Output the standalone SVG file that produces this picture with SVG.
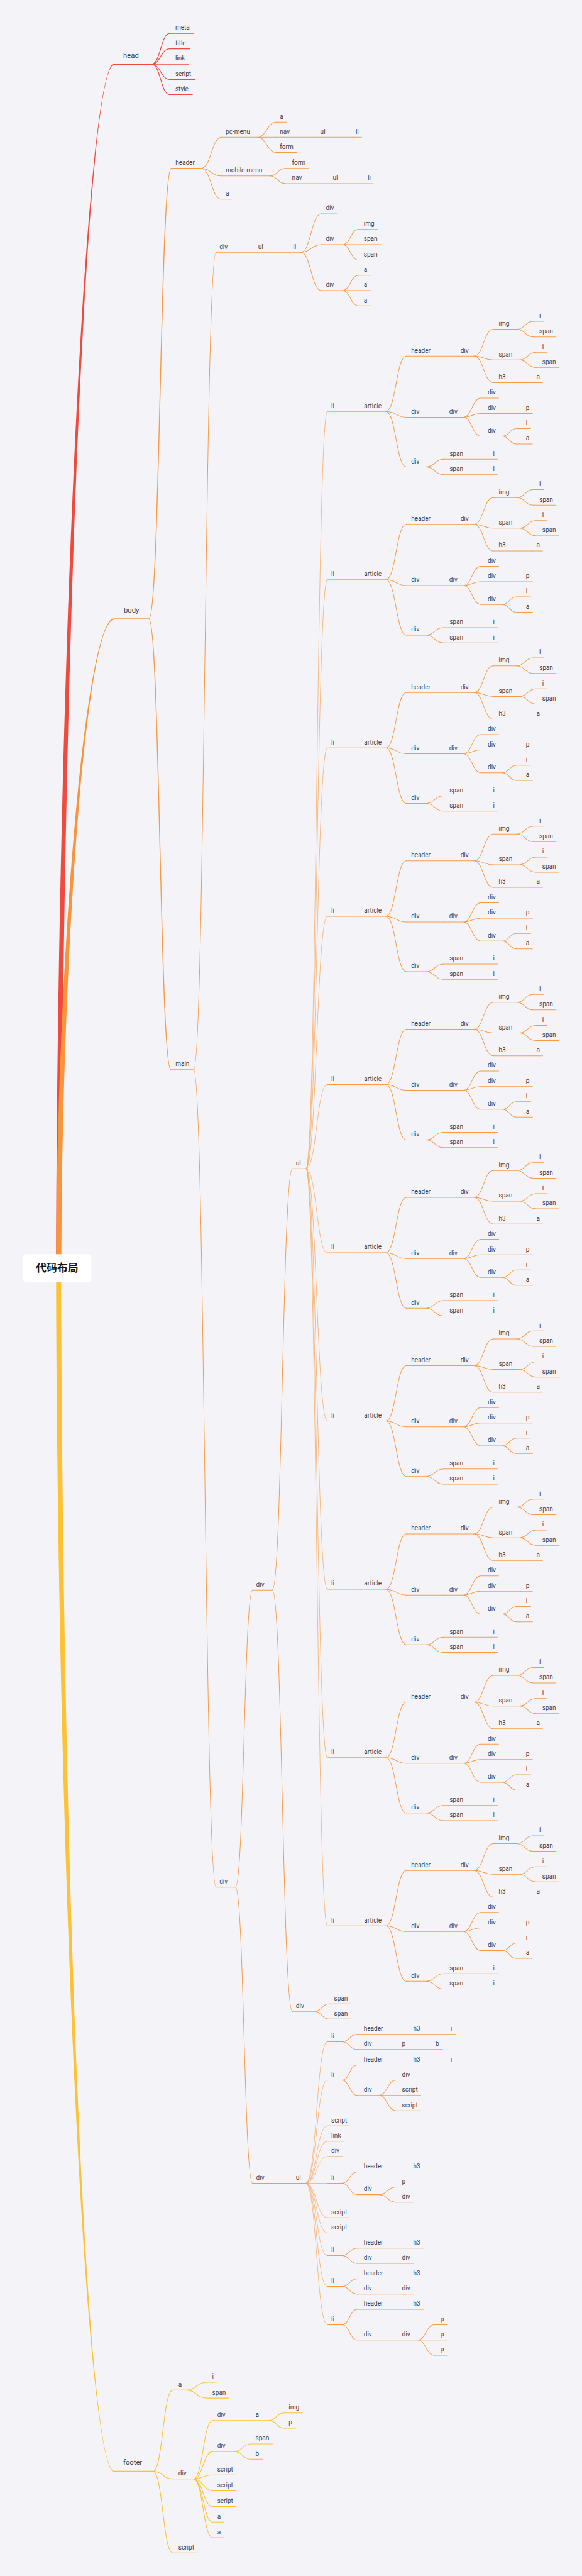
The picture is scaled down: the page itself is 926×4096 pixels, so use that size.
<svg xmlns="http://www.w3.org/2000/svg" width="926" height="4096" viewBox="0 0 926 4096">
<style>
text{font-family:Roboto,"Liberation Sans",sans-serif;font-size:12.5px;fill:#3b4354;stroke:none}
.L1{font-size:14px}
.root{font-family:"Noto Sans CJK SC","Noto Sans CJK JP",sans-serif;font-size:21px;font-weight:700;fill:#151515}
path{fill:none;stroke-linecap:round}
.R path{stroke:#f04a3f;stroke-width:1.5}
.O path{stroke:#f79a45;stroke-width:1.25}
.Y path{stroke:#fcc233;stroke-width:1.4}
path.k1{stroke-width:2.2}
path.k2{stroke-width:1.8}
path.th{stroke-width:1;stroke:#f9aa60}
.bR{fill:#f04a3f;stroke:none}
.bO{fill:#f8953b;stroke:none}
.bY{fill:#fcc233;stroke:none}
</style>
<rect width="926" height="4096" fill="#f4f4f8"/>
<g transform="scale(0.80382,0.80345)">
<g id="connectors">
<path class="bR" d="M111 2490C114 1308 171 125.8 226 125.8L226 128.2C171 128.2 124 1308 121 2490Z"/>
<path class="bO" d="M111 2490C114 1857 171 1223.8 226 1223.8L226 1226.2C171 1226.2 124 1857 121 2490Z"/>
<path class="bY" d="M111 2530C114 3710 171 4892.2 226 4892.2L226 4889.8C171 4889.8 124 3710 121 2530Z"/>
<g class="R"><path d="M300 127C318 127 318 66 336 66M300 127C318 127 318 96.7 336 96.7M300 127H336M300 127C318 127 318 157.3 336 157.3M300 127C318 127 318 187.3 336 187.3"/></g>
<g class="O">
<path class="k2" d="M294.7 1225C316.9 1225 316.9 333.3 339 333.3M294.7 1225C316.5 1225 316.5 2117 338.3 2117"/>
<path d="M397.8 333.3C418.2 333.3 418.2 271.7 438.6 271.7M397.8 333.3C418.2 333.3 418.2 348.3 438.6 348.3M397.8 333.3C418.2 333.3 418.2 394.3 438.6 394.3M509.2 271.7C528.1 271.7 528.1 241.7 547 241.7M509.2 271.7H547M509.2 271.7C528.1 271.7 528.1 301.7 547 301.7M533.7 348.3C549.4 348.3 549.4 333.3 565 333.3M533.7 348.3C549.4 348.3 549.4 363.3 565 363.3"/>
<path d="M383.3 2117C405.5 2117 405.5 499.3 427.7 499.3M383.3 2117C405.5 2117 405.5 3734.7 427.7 3734.7"/>
<path d="M595.5 499.3C615.8 499.3 615.8 423.3 636 423.3M595.5 499.3C615.8 499.3 615.8 484.3 636 484.3M595.5 499.3C615.8 499.3 615.8 575 636 575M677.4 484.3C693.7 484.3 693.7 454 710 454M677.4 484.3H710M677.4 484.3C693.7 484.3 693.7 514.7 710 514.7M677.4 575C693.7 575 693.7 544.7 710 544.7M677.4 575H710M677.4 575C693.7 575 693.7 605.3 710 605.3"/>
<path d="M466 3734.7C483 3734.7 483 3146.8 500 3146.8M466 3734.7C483 3734.7 483 4320.7 500 4320.7M539 3146.8C558.9 3146.8 558.9 2312.8 578.8 2312.8M539 3146.8C558.9 3146.8 558.9 3980.7 578.8 3980.7M623 3980.7C637 3980.7 637 3965.7 651 3965.7M623 3980.7C637 3980.7 637 3995.7 651 3995.7"/>
<path class="th" d="M606 2312.8C626.8 2312.8 626.8 814.3 647.5 814.3M606 2312.8C626.8 2312.8 626.8 1147.3 647.5 1147.3M606 2312.8C626.8 2312.8 626.8 1480.3 647.5 1480.3M606 2312.8C626.8 2312.8 626.8 1813.3 647.5 1813.3M606 2312.8C626.8 2312.8 626.8 2146.3 647.5 2146.3M606 2312.8C626.8 2312.8 626.8 2479.3 647.5 2479.3M606 2312.8C626.8 2312.8 626.8 2812.3 647.5 2812.3M606 2312.8C626.8 2312.8 626.8 3145.3 647.5 3145.3M606 2312.8C626.8 2312.8 626.8 3478.3 647.5 3478.3M606 2312.8C626.8 2312.8 626.8 3811.3 647.5 3811.3"/>
<path class="th" d="M605.7 4320.7C626.6 4320.7 626.6 4040.7 647.5 4040.7M605.7 4320.7C626.6 4320.7 626.6 4116.7 647.5 4116.7M605.7 4320.7C626.6 4320.7 626.6 4207.3 647.5 4207.3M605.7 4320.7C626.6 4320.7 626.6 4237.7 647.5 4237.7M605.7 4320.7C626.6 4320.7 626.6 4268 647.5 4268M605.7 4320.7H647.5M605.7 4320.7C626.6 4320.7 626.6 4389 647.5 4389M605.7 4320.7C626.6 4320.7 626.6 4419 647.5 4419M605.7 4320.7C626.6 4320.7 626.6 4464 647.5 4464M605.7 4320.7C626.6 4320.7 626.6 4525 647.5 4525M605.7 4320.7C626.6 4320.7 626.6 4600.7 647.5 4600.7"/>
<path d="M676.7 4040.7C692 4040.7 692 4026 707.4 4026M676.7 4040.7C692 4040.7 692 4056 707.4 4056M676.7 4116.7C692 4116.7 692 4086.7 707.4 4086.7M676.7 4116.7C692 4116.7 692 4146.7 707.4 4146.7M749.6 4146.7C766.8 4146.7 766.8 4116.7 784 4116.7M749.6 4146.7H784M749.6 4146.7C766.8 4146.7 766.8 4177.3 784 4177.3M676.7 4320.7C692 4320.7 692 4298.3 707.4 4298.3M676.7 4320.7C692 4320.7 692 4343.3 707.4 4343.3M749.6 4343.3C766.8 4343.3 766.8 4328.3 784 4328.3M749.6 4343.3C766.8 4343.3 766.8 4358.3 784 4358.3M676.7 4464C692 4464 692 4449.3 707.4 4449.3M676.7 4464C692 4464 692 4479.3 707.4 4479.3M676.7 4525C692 4525 692 4510 707.4 4510M676.7 4525C692 4525 692 4540 707.4 4540M676.7 4600.7C692 4600.7 692 4570.3 707.4 4570.3M676.7 4600.7C692 4600.7 692 4631 707.4 4631M826.4 4631C843.2 4631 843.2 4600.7 860 4600.7M826.4 4631H860M826.4 4631C843.2 4631 843.2 4661 860 4661"/>
<g id="art-conn">
<path transform="translate(0 814.3)" d="M763.7 0C784 0 784 -109.6 804.2 -109.6M763.7 0C784 0 784 11.4 804.2 11.4M763.7 0C784 0 784 109.7 804.2 109.7M938 -109.6C957.3 -109.6 957.3 -162.6 976.6 -162.6M938 -109.6C957.3 -109.6 957.3 -102 976.6 -102M938 -109.6C957.3 -109.6 957.3 -57 976.6 -57M1022.4 -162.6C1039.1 -162.6 1039.1 -178.3 1055.8 -178.3M1022.4 -162.6C1039.1 -162.6 1039.1 -147.6 1055.8 -147.6M1027.7 -102C1044.4 -102 1044.4 -117 1061 -117M1027.7 -102C1044.4 -102 1044.4 -87 1061 -87M916.8 11.4C934.4 11.4 934.4 -26.6 952 -26.6M916.8 11.4C934.4 11.4 934.4 4 952 4M916.8 11.4C934.4 11.4 934.4 49 952 49M994.2 49C1008.3 49 1008.3 34 1022.4 34M994.2 49C1008.3 49 1008.3 64.4 1022.4 64.4M842.9 109.7C860.5 109.7 860.5 94.7 878 94.7M842.9 109.7C860.5 109.7 860.5 125 878 125"/>
<path transform="translate(0 1147.3)" d="M763.7 0C784 0 784 -109.6 804.2 -109.6M763.7 0C784 0 784 11.4 804.2 11.4M763.7 0C784 0 784 109.7 804.2 109.7M938 -109.6C957.3 -109.6 957.3 -162.6 976.6 -162.6M938 -109.6C957.3 -109.6 957.3 -102 976.6 -102M938 -109.6C957.3 -109.6 957.3 -57 976.6 -57M1022.4 -162.6C1039.1 -162.6 1039.1 -178.3 1055.8 -178.3M1022.4 -162.6C1039.1 -162.6 1039.1 -147.6 1055.8 -147.6M1027.7 -102C1044.4 -102 1044.4 -117 1061 -117M1027.7 -102C1044.4 -102 1044.4 -87 1061 -87M916.8 11.4C934.4 11.4 934.4 -26.6 952 -26.6M916.8 11.4C934.4 11.4 934.4 4 952 4M916.8 11.4C934.4 11.4 934.4 49 952 49M994.2 49C1008.3 49 1008.3 34 1022.4 34M994.2 49C1008.3 49 1008.3 64.4 1022.4 64.4M842.9 109.7C860.5 109.7 860.5 94.7 878 94.7M842.9 109.7C860.5 109.7 860.5 125 878 125"/>
<path transform="translate(0 1480.3)" d="M763.7 0C784 0 784 -109.6 804.2 -109.6M763.7 0C784 0 784 11.4 804.2 11.4M763.7 0C784 0 784 109.7 804.2 109.7M938 -109.6C957.3 -109.6 957.3 -162.6 976.6 -162.6M938 -109.6C957.3 -109.6 957.3 -102 976.6 -102M938 -109.6C957.3 -109.6 957.3 -57 976.6 -57M1022.4 -162.6C1039.1 -162.6 1039.1 -178.3 1055.8 -178.3M1022.4 -162.6C1039.1 -162.6 1039.1 -147.6 1055.8 -147.6M1027.7 -102C1044.4 -102 1044.4 -117 1061 -117M1027.7 -102C1044.4 -102 1044.4 -87 1061 -87M916.8 11.4C934.4 11.4 934.4 -26.6 952 -26.6M916.8 11.4C934.4 11.4 934.4 4 952 4M916.8 11.4C934.4 11.4 934.4 49 952 49M994.2 49C1008.3 49 1008.3 34 1022.4 34M994.2 49C1008.3 49 1008.3 64.4 1022.4 64.4M842.9 109.7C860.5 109.7 860.5 94.7 878 94.7M842.9 109.7C860.5 109.7 860.5 125 878 125"/>
<path transform="translate(0 1813.3)" d="M763.7 0C784 0 784 -109.6 804.2 -109.6M763.7 0C784 0 784 11.4 804.2 11.4M763.7 0C784 0 784 109.7 804.2 109.7M938 -109.6C957.3 -109.6 957.3 -162.6 976.6 -162.6M938 -109.6C957.3 -109.6 957.3 -102 976.6 -102M938 -109.6C957.3 -109.6 957.3 -57 976.6 -57M1022.4 -162.6C1039.1 -162.6 1039.1 -178.3 1055.8 -178.3M1022.4 -162.6C1039.1 -162.6 1039.1 -147.6 1055.8 -147.6M1027.7 -102C1044.4 -102 1044.4 -117 1061 -117M1027.7 -102C1044.4 -102 1044.4 -87 1061 -87M916.8 11.4C934.4 11.4 934.4 -26.6 952 -26.6M916.8 11.4C934.4 11.4 934.4 4 952 4M916.8 11.4C934.4 11.4 934.4 49 952 49M994.2 49C1008.3 49 1008.3 34 1022.4 34M994.2 49C1008.3 49 1008.3 64.4 1022.4 64.4M842.9 109.7C860.5 109.7 860.5 94.7 878 94.7M842.9 109.7C860.5 109.7 860.5 125 878 125"/>
<path transform="translate(0 2146.3)" d="M763.7 0C784 0 784 -109.6 804.2 -109.6M763.7 0C784 0 784 11.4 804.2 11.4M763.7 0C784 0 784 109.7 804.2 109.7M938 -109.6C957.3 -109.6 957.3 -162.6 976.6 -162.6M938 -109.6C957.3 -109.6 957.3 -102 976.6 -102M938 -109.6C957.3 -109.6 957.3 -57 976.6 -57M1022.4 -162.6C1039.1 -162.6 1039.1 -178.3 1055.8 -178.3M1022.4 -162.6C1039.1 -162.6 1039.1 -147.6 1055.8 -147.6M1027.7 -102C1044.4 -102 1044.4 -117 1061 -117M1027.7 -102C1044.4 -102 1044.4 -87 1061 -87M916.8 11.4C934.4 11.4 934.4 -26.6 952 -26.6M916.8 11.4C934.4 11.4 934.4 4 952 4M916.8 11.4C934.4 11.4 934.4 49 952 49M994.2 49C1008.3 49 1008.3 34 1022.4 34M994.2 49C1008.3 49 1008.3 64.4 1022.4 64.4M842.9 109.7C860.5 109.7 860.5 94.7 878 94.7M842.9 109.7C860.5 109.7 860.5 125 878 125"/>
<path transform="translate(0 2479.3)" d="M763.7 0C784 0 784 -109.6 804.2 -109.6M763.7 0C784 0 784 11.4 804.2 11.4M763.7 0C784 0 784 109.7 804.2 109.7M938 -109.6C957.3 -109.6 957.3 -162.6 976.6 -162.6M938 -109.6C957.3 -109.6 957.3 -102 976.6 -102M938 -109.6C957.3 -109.6 957.3 -57 976.6 -57M1022.4 -162.6C1039.1 -162.6 1039.1 -178.3 1055.8 -178.3M1022.4 -162.6C1039.1 -162.6 1039.1 -147.6 1055.8 -147.6M1027.7 -102C1044.4 -102 1044.4 -117 1061 -117M1027.7 -102C1044.4 -102 1044.4 -87 1061 -87M916.8 11.4C934.4 11.4 934.4 -26.6 952 -26.6M916.8 11.4C934.4 11.4 934.4 4 952 4M916.8 11.4C934.4 11.4 934.4 49 952 49M994.2 49C1008.3 49 1008.3 34 1022.4 34M994.2 49C1008.3 49 1008.3 64.4 1022.4 64.4M842.9 109.7C860.5 109.7 860.5 94.7 878 94.7M842.9 109.7C860.5 109.7 860.5 125 878 125"/>
<path transform="translate(0 2812.3)" d="M763.7 0C784 0 784 -109.6 804.2 -109.6M763.7 0C784 0 784 11.4 804.2 11.4M763.7 0C784 0 784 109.7 804.2 109.7M938 -109.6C957.3 -109.6 957.3 -162.6 976.6 -162.6M938 -109.6C957.3 -109.6 957.3 -102 976.6 -102M938 -109.6C957.3 -109.6 957.3 -57 976.6 -57M1022.4 -162.6C1039.1 -162.6 1039.1 -178.3 1055.8 -178.3M1022.4 -162.6C1039.1 -162.6 1039.1 -147.6 1055.8 -147.6M1027.7 -102C1044.4 -102 1044.4 -117 1061 -117M1027.7 -102C1044.4 -102 1044.4 -87 1061 -87M916.8 11.4C934.4 11.4 934.4 -26.6 952 -26.6M916.8 11.4C934.4 11.4 934.4 4 952 4M916.8 11.4C934.4 11.4 934.4 49 952 49M994.2 49C1008.3 49 1008.3 34 1022.4 34M994.2 49C1008.3 49 1008.3 64.4 1022.4 64.4M842.9 109.7C860.5 109.7 860.5 94.7 878 94.7M842.9 109.7C860.5 109.7 860.5 125 878 125"/>
<path transform="translate(0 3145.3)" d="M763.7 0C784 0 784 -109.6 804.2 -109.6M763.7 0C784 0 784 11.4 804.2 11.4M763.7 0C784 0 784 109.7 804.2 109.7M938 -109.6C957.3 -109.6 957.3 -162.6 976.6 -162.6M938 -109.6C957.3 -109.6 957.3 -102 976.6 -102M938 -109.6C957.3 -109.6 957.3 -57 976.6 -57M1022.4 -162.6C1039.1 -162.6 1039.1 -178.3 1055.8 -178.3M1022.4 -162.6C1039.1 -162.6 1039.1 -147.6 1055.8 -147.6M1027.7 -102C1044.4 -102 1044.4 -117 1061 -117M1027.7 -102C1044.4 -102 1044.4 -87 1061 -87M916.8 11.4C934.4 11.4 934.4 -26.6 952 -26.6M916.8 11.4C934.4 11.4 934.4 4 952 4M916.8 11.4C934.4 11.4 934.4 49 952 49M994.2 49C1008.3 49 1008.3 34 1022.4 34M994.2 49C1008.3 49 1008.3 64.4 1022.4 64.4M842.9 109.7C860.5 109.7 860.5 94.7 878 94.7M842.9 109.7C860.5 109.7 860.5 125 878 125"/>
<path transform="translate(0 3478.3)" d="M763.7 0C784 0 784 -109.6 804.2 -109.6M763.7 0C784 0 784 11.4 804.2 11.4M763.7 0C784 0 784 109.7 804.2 109.7M938 -109.6C957.3 -109.6 957.3 -162.6 976.6 -162.6M938 -109.6C957.3 -109.6 957.3 -102 976.6 -102M938 -109.6C957.3 -109.6 957.3 -57 976.6 -57M1022.4 -162.6C1039.1 -162.6 1039.1 -178.3 1055.8 -178.3M1022.4 -162.6C1039.1 -162.6 1039.1 -147.6 1055.8 -147.6M1027.7 -102C1044.4 -102 1044.4 -117 1061 -117M1027.7 -102C1044.4 -102 1044.4 -87 1061 -87M916.8 11.4C934.4 11.4 934.4 -26.6 952 -26.6M916.8 11.4C934.4 11.4 934.4 4 952 4M916.8 11.4C934.4 11.4 934.4 49 952 49M994.2 49C1008.3 49 1008.3 34 1022.4 34M994.2 49C1008.3 49 1008.3 64.4 1022.4 64.4M842.9 109.7C860.5 109.7 860.5 94.7 878 94.7M842.9 109.7C860.5 109.7 860.5 125 878 125"/>
<path transform="translate(0 3811.3)" d="M763.7 0C784 0 784 -109.6 804.2 -109.6M763.7 0C784 0 784 11.4 804.2 11.4M763.7 0C784 0 784 109.7 804.2 109.7M938 -109.6C957.3 -109.6 957.3 -162.6 976.6 -162.6M938 -109.6C957.3 -109.6 957.3 -102 976.6 -102M938 -109.6C957.3 -109.6 957.3 -57 976.6 -57M1022.4 -162.6C1039.1 -162.6 1039.1 -178.3 1055.8 -178.3M1022.4 -162.6C1039.1 -162.6 1039.1 -147.6 1055.8 -147.6M1027.7 -102C1044.4 -102 1044.4 -117 1061 -117M1027.7 -102C1044.4 -102 1044.4 -87 1061 -87M916.8 11.4C934.4 11.4 934.4 -26.6 952 -26.6M916.8 11.4C934.4 11.4 934.4 4 952 4M916.8 11.4C934.4 11.4 934.4 49 952 49M994.2 49C1008.3 49 1008.3 34 1022.4 34M994.2 49C1008.3 49 1008.3 64.4 1022.4 64.4M842.9 109.7C860.5 109.7 860.5 94.7 878 94.7M842.9 109.7C860.5 109.7 860.5 125 878 125"/>
</g>
</g>
<g class="Y"><path d="M302.7 4891C322.4 4891 322.4 4730 342 4730M302.7 4891C322.4 4891 322.4 4906 342 4906M302.7 4891C322.4 4891 322.4 5052.3 342 5052.3M367.4 4730C388.7 4730 388.7 4714.7 410 4714.7M367.4 4730C388.7 4730 388.7 4746 410 4746M383 4906C402 4906 402 4790.3 421 4790.3M383 4906C402 4906 402 4851.7 421 4851.7M383 4906C402 4906 402 4898 421 4898M383 4906C402 4906 402 4929.3 421 4929.3M383 4906C402 4906 402 4960.3 421 4960.3M383 4906C402 4906 402 4991.3 421 4991.3M383 4906C402 4906 402 5022.3 421 5022.3M532.6 4790.3C547.3 4790.3 547.3 4775.3 562 4775.3M532.6 4790.3C547.3 4790.3 547.3 4805.3 562 4805.3M463.4 4851.7C480.2 4851.7 480.2 4836.7 497 4836.7M463.4 4851.7C480.2 4851.7 480.2 4867 497 4867"/></g>
</g>
<g id="nodes">
<g id="root"><rect x="45" y="2482" width="136" height="55" rx="6" fill="#ffffff"/><text class="root" x="113" y="2517" text-anchor="middle">代码布局</text></g>
<g class="R">
<g id="head"><path class="k1" d="M226 127H300"/><text class="L1" x="244" y="114">head</text></g>
<g id="head-meta"><path d="M336 66H383"/><text x="347" y="59">meta</text></g>
<g id="head-title"><path d="M336 96.7H376"/><text x="347" y="89.7">title</text></g>
<g id="head-link"><path d="M336 127H373"/><text x="347" y="120">link</text></g>
<g id="head-script"><path d="M336 157.3H385"/><text x="347" y="150.3">script</text></g>
<g id="head-style"><path d="M336 187.3H381"/><text x="347" y="180.3">style</text></g>
</g>
<g class="O">
<g id="body"><path class="k1" d="M226 1225H294.7"/><text class="L1" x="245" y="1212">body</text></g>
<g id="header"><path class="k2" d="M339 333.3H397.8"/><text x="347.3" y="326.3">header</text></g>
<g id="pc-menu"><path d="M438.6 271.7H509.2"/><text x="446.7" y="264.7">pc-menu</text></g>
<g id="pc-a"><path d="M547 241.7H568"/><text x="554" y="234.7">a</text></g>
<g id="pc-nav"><path d="M547 271.7H627"/><text x="554" y="264.7">nav</text></g>
<g id="pc-ul"><path d="M627 271.7H697"/><text x="634" y="264.7">ul</text></g>
<g id="pc-li"><path d="M697 271.7H716"/><text x="704" y="264.7">li</text></g>
<g id="pc-form"><path d="M547 301.7H587"/><text x="554" y="294.7">form</text></g>
<g id="mobile-menu"><path d="M438.6 348.3H533.7"/><text x="446.7" y="341.3">mobile-menu</text></g>
<g id="mm-form"><path d="M565 333.3H611"/><text x="578" y="326.3">form</text></g>
<g id="mm-nav"><path d="M565 363.3H652"/><text x="578" y="356.3">nav</text></g>
<g id="mm-ul"><path d="M652 363.3H721"/><text x="658.7" y="356.3">ul</text></g>
<g id="mm-li"><path d="M721 363.3H739"/><text x="728" y="356.3">li</text></g>
<g id="header-a"><path d="M438.6 394.3H458.7"/><text x="446.7" y="387.3">a</text></g>
<g id="main"><path class="k2" d="M338.3 2117H383.3"/><text x="347.3" y="2110">main</text></g>
<g id="m1-div"><path d="M427.7 499.3H505"/><text x="434.4" y="492.3">div</text></g>
<g id="m1-ul"><path d="M505 499.3H573"/><text x="511" y="492.3">ul</text></g>
<g id="m1-li"><path d="M573 499.3H595.5"/><text x="580" y="492.3">li</text></g>
<g id="m1-d1"><path d="M636 423.3H667"/><text x="645" y="416.3">div</text></g>
<g id="m1-d2"><path d="M636 484.3H677.4"/><text x="645" y="477.3">div</text></g>
<g id="m1-img"><path d="M710 454H747.4"/><text x="720" y="447">img</text></g>
<g id="m1-span1"><path d="M710 484.3H754"/><text x="720" y="477.3">span</text></g>
<g id="m1-span2"><path d="M710 514.7H754"/><text x="720" y="507.7">span</text></g>
<g id="m1-d3"><path d="M636 575H677.4"/><text x="645" y="568">div</text></g>
<g id="m1-a1"><path d="M710 544.7H733.6"/><text x="720" y="537.7">a</text></g>
<g id="m1-a2"><path d="M710 575H733.6"/><text x="720" y="568">a</text></g>
<g id="m1-a3"><path d="M710 605.3H733.6"/><text x="720" y="598.3">a</text></g>
<g id="m2-div"><path d="M427.7 3734.7H466"/><text x="434.4" y="3727.7">div</text></g>
<g id="divA"><path d="M500 3146.8H539"/><text x="507" y="3139.8">div</text></g>
<g id="ulA"><path d="M578.8 2312.8H606"/><text x="585.7" y="2305.8">ul</text></g>
<g id="divS"><path d="M578.8 3980.7H623"/><text x="585.7" y="3973.7">div</text></g>
<g id="divS-span1"><path d="M651 3965.7H695"/><text x="661.3" y="3958.7">span</text></g>
<g id="divS-span2"><path d="M651 3995.7H695"/><text x="661.3" y="3988.7">span</text></g>
<g id="divB"><path d="M500 4320.7H578.8"/><text x="507" y="4313.7">div</text></g>
<g id="ulB"><path d="M578.8 4320.7H605.7"/><text x="585.7" y="4313.7">ul</text></g>
<g id="b1-li"><path d="M647.5 4040.7H676.7"/><text x="655.6" y="4033.7">li</text></g>
<g id="b1-header"><path d="M707.4 4026H810"/><text x="720" y="4019">header</text></g>
<g id="b1-h3"><path d="M810 4026H884"/><text x="818" y="4019">h3</text></g>
<g id="b1-i"><path d="M884 4026H901.6"/><text x="891.6" y="4019">i</text></g>
<g id="b1-div"><path d="M707.4 4056H788"/><text x="720" y="4049">div</text></g>
<g id="b1-p"><path d="M788 4056H855"/><text x="795.7" y="4049">p</text></g>
<g id="b1-b"><path d="M855 4056H876.3"/><text x="862" y="4049">b</text></g>
<g id="b2-li"><path d="M647.5 4116.7H676.7"/><text x="655.6" y="4109.7">li</text></g>
<g id="b2-header"><path d="M707.4 4086.7H810"/><text x="720" y="4079.7">header</text></g>
<g id="b2-h3"><path d="M810 4086.7H884"/><text x="818" y="4079.7">h3</text></g>
<g id="b2-i"><path d="M884 4086.7H901.6"/><text x="891.6" y="4079.7">i</text></g>
<g id="b2-div"><path d="M707.4 4146.7H749.6"/><text x="720" y="4139.7">div</text></g>
<g id="b2-div-div"><path d="M784 4116.7H818.7"/><text x="795.7" y="4109.7">div</text></g>
<g id="b2-script1"><path d="M784 4146.7H833"/><text x="795.7" y="4139.7">script</text></g>
<g id="b2-script2"><path d="M784 4177.3H833"/><text x="795.7" y="4170.3">script</text></g>
<g id="b3-script"><path d="M647.5 4207.3H692"/><text x="655.6" y="4200.3">script</text></g>
<g id="b4-link"><path d="M647.5 4237.7H680.5"/><text x="655.6" y="4230.7">link</text></g>
<g id="b5-div"><path d="M647.5 4268H677.8"/><text x="655.6" y="4261">div</text></g>
<g id="b6-li"><path d="M647.5 4320.7H676.7"/><text x="655.6" y="4313.7">li</text></g>
<g id="b6-header"><path d="M707.4 4298.3H810"/><text x="720" y="4291.3">header</text></g>
<g id="b6-h3"><path d="M810 4298.3H838.7"/><text x="818" y="4291.3">h3</text></g>
<g id="b6-div"><path d="M707.4 4343.3H749.6"/><text x="720" y="4336.3">div</text></g>
<g id="b6-p"><path d="M784 4328.3H810"/><text x="795.7" y="4321.3">p</text></g>
<g id="b6-div-div"><path d="M784 4358.3H818.7"/><text x="795.7" y="4351.3">div</text></g>
<g id="b7-script"><path d="M647.5 4389H692"/><text x="655.6" y="4382">script</text></g>
<g id="b8-script"><path d="M647.5 4419H692"/><text x="655.6" y="4412">script</text></g>
<g id="b9-li"><path d="M647.5 4464H676.7"/><text x="655.6" y="4457">li</text></g>
<g id="b9-header"><path d="M707.4 4449.3H810"/><text x="720" y="4442.3">header</text></g>
<g id="b9-h3"><path d="M810 4449.3H838.7"/><text x="818" y="4442.3">h3</text></g>
<g id="b9-div"><path d="M707.4 4479.3H788"/><text x="720" y="4472.3">div</text></g>
<g id="b9-div2"><path d="M788 4479.3H818.7"/><text x="795.7" y="4472.3">div</text></g>
<g id="b10-li"><path d="M647.5 4525H676.7"/><text x="655.6" y="4518">li</text></g>
<g id="b10-header"><path d="M707.4 4510H810"/><text x="720" y="4503">header</text></g>
<g id="b10-h3"><path d="M810 4510H838.7"/><text x="818" y="4503">h3</text></g>
<g id="b10-div"><path d="M707.4 4540H788"/><text x="720" y="4533">div</text></g>
<g id="b10-div2"><path d="M788 4540H818.7"/><text x="795.7" y="4533">div</text></g>
<g id="b11-li"><path d="M647.5 4600.7H676.7"/><text x="655.6" y="4593.7">li</text></g>
<g id="b11-header"><path d="M707.4 4570.3H810"/><text x="720" y="4563.3">header</text></g>
<g id="b11-h3"><path d="M810 4570.3H838.7"/><text x="818" y="4563.3">h3</text></g>
<g id="b11-div"><path d="M707.4 4631H788"/><text x="720" y="4624">div</text></g>
<g id="b11-div2"><path d="M788 4631H826.4"/><text x="795.7" y="4624">div</text></g>
<g id="b11-p1"><path d="M860 4600.7H885.9"/><text x="871.7" y="4593.7">p</text></g>
<g id="b11-p2"><path d="M860 4631H885.9"/><text x="871.7" y="4624">p</text></g>
<g id="b11-p3"><path d="M860 4661H885.9"/><text x="871.7" y="4654">p</text></g>
<g id="art1" transform="translate(0 814.3)">
<g id="a1-li"><path d="M647.5 0H712"/><text x="655.6" y="-7">li</text></g>
<g id="a1-article"><path d="M712 0H763.7"/><text x="720.7" y="-7">article</text></g>
<g id="a1-header"><path d="M804.2 -109.6H903"/><text x="814" y="-116.6">header</text></g>
<g id="a1-hdiv"><path d="M903 -109.6H938"/><text x="911.5" y="-116.6">div</text></g>
<g id="a1-img"><path d="M976.6 -162.6H1022.4"/><text x="987.2" y="-169.6">img</text></g>
<g id="a1-img-i"><path d="M1055.8 -178.3H1077"/><text x="1067.4" y="-185.3">i</text></g>
<g id="a1-img-span"><path d="M1055.8 -147.6H1100.5"/><text x="1067.4" y="-154.6">span</text></g>
<g id="a1-span"><path d="M976.6 -102H1027.7"/><text x="987.2" y="-109">span</text></g>
<g id="a1-span-i"><path d="M1061 -117H1083.3"/><text x="1073.4" y="-124">i</text></g>
<g id="a1-span-span"><path d="M1061 -87H1106.9"/><text x="1073.4" y="-94">span</text></g>
<g id="a1-h3"><path d="M976.6 -57H1052"/><text x="987.2" y="-64">h3</text></g>
<g id="a1-h3-a"><path d="M1052 -57H1074"/><text x="1061.8" y="-64">a</text></g>
<g id="a1-div"><path d="M804.2 11.4H880"/><text x="814" y="4.4">div</text></g>
<g id="a1-bdiv"><path d="M880 11.4H916.8"/><text x="889.3" y="4.4">div</text></g>
<g id="a1-d1"><path d="M952 -26.6H987.2"/><text x="965.4" y="-33.6">div</text></g>
<g id="a1-d2"><path d="M952 4H1032"/><text x="965.4" y="-3">div</text></g>
<g id="a1-d2p"><path d="M1032 4H1054"/><text x="1041" y="-3">p</text></g>
<g id="a1-d3"><path d="M952 49H994.2"/><text x="965.4" y="42">div</text></g>
<g id="a1-d3i"><path d="M1022.4 34H1050.5"/><text x="1041" y="27">i</text></g>
<g id="a1-d3a"><path d="M1022.4 64.4H1054"/><text x="1041" y="57.4">a</text></g>
<g id="a1-fdiv"><path d="M804.2 109.7H842.9"/><text x="814" y="102.7">div</text></g>
<g id="a1-s1"><path d="M878 94.7H950"/><text x="889.7" y="87.7">span</text></g>
<g id="a1-s1i"><path d="M950 94.7H985.4"/><text x="976" y="87.7">i</text></g>
<g id="a1-s2"><path d="M878 125H950"/><text x="889.7" y="118">span</text></g>
<g id="a1-s2i"><path d="M950 125H985.4"/><text x="976" y="118">i</text></g>
</g>
<g id="art2" transform="translate(0 1147.3)">
<g id="a2-li"><path d="M647.5 0H712"/><text x="655.6" y="-7">li</text></g>
<g id="a2-article"><path d="M712 0H763.7"/><text x="720.7" y="-7">article</text></g>
<g id="a2-header"><path d="M804.2 -109.6H903"/><text x="814" y="-116.6">header</text></g>
<g id="a2-hdiv"><path d="M903 -109.6H938"/><text x="911.5" y="-116.6">div</text></g>
<g id="a2-img"><path d="M976.6 -162.6H1022.4"/><text x="987.2" y="-169.6">img</text></g>
<g id="a2-img-i"><path d="M1055.8 -178.3H1077"/><text x="1067.4" y="-185.3">i</text></g>
<g id="a2-img-span"><path d="M1055.8 -147.6H1100.5"/><text x="1067.4" y="-154.6">span</text></g>
<g id="a2-span"><path d="M976.6 -102H1027.7"/><text x="987.2" y="-109">span</text></g>
<g id="a2-span-i"><path d="M1061 -117H1083.3"/><text x="1073.4" y="-124">i</text></g>
<g id="a2-span-span"><path d="M1061 -87H1106.9"/><text x="1073.4" y="-94">span</text></g>
<g id="a2-h3"><path d="M976.6 -57H1052"/><text x="987.2" y="-64">h3</text></g>
<g id="a2-h3-a"><path d="M1052 -57H1074"/><text x="1061.8" y="-64">a</text></g>
<g id="a2-div"><path d="M804.2 11.4H880"/><text x="814" y="4.4">div</text></g>
<g id="a2-bdiv"><path d="M880 11.4H916.8"/><text x="889.3" y="4.4">div</text></g>
<g id="a2-d1"><path d="M952 -26.6H987.2"/><text x="965.4" y="-33.6">div</text></g>
<g id="a2-d2"><path d="M952 4H1032"/><text x="965.4" y="-3">div</text></g>
<g id="a2-d2p"><path d="M1032 4H1054"/><text x="1041" y="-3">p</text></g>
<g id="a2-d3"><path d="M952 49H994.2"/><text x="965.4" y="42">div</text></g>
<g id="a2-d3i"><path d="M1022.4 34H1050.5"/><text x="1041" y="27">i</text></g>
<g id="a2-d3a"><path d="M1022.4 64.4H1054"/><text x="1041" y="57.4">a</text></g>
<g id="a2-fdiv"><path d="M804.2 109.7H842.9"/><text x="814" y="102.7">div</text></g>
<g id="a2-s1"><path d="M878 94.7H950"/><text x="889.7" y="87.7">span</text></g>
<g id="a2-s1i"><path d="M950 94.7H985.4"/><text x="976" y="87.7">i</text></g>
<g id="a2-s2"><path d="M878 125H950"/><text x="889.7" y="118">span</text></g>
<g id="a2-s2i"><path d="M950 125H985.4"/><text x="976" y="118">i</text></g>
</g>
<g id="art3" transform="translate(0 1480.3)">
<g id="a3-li"><path d="M647.5 0H712"/><text x="655.6" y="-7">li</text></g>
<g id="a3-article"><path d="M712 0H763.7"/><text x="720.7" y="-7">article</text></g>
<g id="a3-header"><path d="M804.2 -109.6H903"/><text x="814" y="-116.6">header</text></g>
<g id="a3-hdiv"><path d="M903 -109.6H938"/><text x="911.5" y="-116.6">div</text></g>
<g id="a3-img"><path d="M976.6 -162.6H1022.4"/><text x="987.2" y="-169.6">img</text></g>
<g id="a3-img-i"><path d="M1055.8 -178.3H1077"/><text x="1067.4" y="-185.3">i</text></g>
<g id="a3-img-span"><path d="M1055.8 -147.6H1100.5"/><text x="1067.4" y="-154.6">span</text></g>
<g id="a3-span"><path d="M976.6 -102H1027.7"/><text x="987.2" y="-109">span</text></g>
<g id="a3-span-i"><path d="M1061 -117H1083.3"/><text x="1073.4" y="-124">i</text></g>
<g id="a3-span-span"><path d="M1061 -87H1106.9"/><text x="1073.4" y="-94">span</text></g>
<g id="a3-h3"><path d="M976.6 -57H1052"/><text x="987.2" y="-64">h3</text></g>
<g id="a3-h3-a"><path d="M1052 -57H1074"/><text x="1061.8" y="-64">a</text></g>
<g id="a3-div"><path d="M804.2 11.4H880"/><text x="814" y="4.4">div</text></g>
<g id="a3-bdiv"><path d="M880 11.4H916.8"/><text x="889.3" y="4.4">div</text></g>
<g id="a3-d1"><path d="M952 -26.6H987.2"/><text x="965.4" y="-33.6">div</text></g>
<g id="a3-d2"><path d="M952 4H1032"/><text x="965.4" y="-3">div</text></g>
<g id="a3-d2p"><path d="M1032 4H1054"/><text x="1041" y="-3">p</text></g>
<g id="a3-d3"><path d="M952 49H994.2"/><text x="965.4" y="42">div</text></g>
<g id="a3-d3i"><path d="M1022.4 34H1050.5"/><text x="1041" y="27">i</text></g>
<g id="a3-d3a"><path d="M1022.4 64.4H1054"/><text x="1041" y="57.4">a</text></g>
<g id="a3-fdiv"><path d="M804.2 109.7H842.9"/><text x="814" y="102.7">div</text></g>
<g id="a3-s1"><path d="M878 94.7H950"/><text x="889.7" y="87.7">span</text></g>
<g id="a3-s1i"><path d="M950 94.7H985.4"/><text x="976" y="87.7">i</text></g>
<g id="a3-s2"><path d="M878 125H950"/><text x="889.7" y="118">span</text></g>
<g id="a3-s2i"><path d="M950 125H985.4"/><text x="976" y="118">i</text></g>
</g>
<g id="art4" transform="translate(0 1813.3)">
<g id="a4-li"><path d="M647.5 0H712"/><text x="655.6" y="-7">li</text></g>
<g id="a4-article"><path d="M712 0H763.7"/><text x="720.7" y="-7">article</text></g>
<g id="a4-header"><path d="M804.2 -109.6H903"/><text x="814" y="-116.6">header</text></g>
<g id="a4-hdiv"><path d="M903 -109.6H938"/><text x="911.5" y="-116.6">div</text></g>
<g id="a4-img"><path d="M976.6 -162.6H1022.4"/><text x="987.2" y="-169.6">img</text></g>
<g id="a4-img-i"><path d="M1055.8 -178.3H1077"/><text x="1067.4" y="-185.3">i</text></g>
<g id="a4-img-span"><path d="M1055.8 -147.6H1100.5"/><text x="1067.4" y="-154.6">span</text></g>
<g id="a4-span"><path d="M976.6 -102H1027.7"/><text x="987.2" y="-109">span</text></g>
<g id="a4-span-i"><path d="M1061 -117H1083.3"/><text x="1073.4" y="-124">i</text></g>
<g id="a4-span-span"><path d="M1061 -87H1106.9"/><text x="1073.4" y="-94">span</text></g>
<g id="a4-h3"><path d="M976.6 -57H1052"/><text x="987.2" y="-64">h3</text></g>
<g id="a4-h3-a"><path d="M1052 -57H1074"/><text x="1061.8" y="-64">a</text></g>
<g id="a4-div"><path d="M804.2 11.4H880"/><text x="814" y="4.4">div</text></g>
<g id="a4-bdiv"><path d="M880 11.4H916.8"/><text x="889.3" y="4.4">div</text></g>
<g id="a4-d1"><path d="M952 -26.6H987.2"/><text x="965.4" y="-33.6">div</text></g>
<g id="a4-d2"><path d="M952 4H1032"/><text x="965.4" y="-3">div</text></g>
<g id="a4-d2p"><path d="M1032 4H1054"/><text x="1041" y="-3">p</text></g>
<g id="a4-d3"><path d="M952 49H994.2"/><text x="965.4" y="42">div</text></g>
<g id="a4-d3i"><path d="M1022.4 34H1050.5"/><text x="1041" y="27">i</text></g>
<g id="a4-d3a"><path d="M1022.4 64.4H1054"/><text x="1041" y="57.4">a</text></g>
<g id="a4-fdiv"><path d="M804.2 109.7H842.9"/><text x="814" y="102.7">div</text></g>
<g id="a4-s1"><path d="M878 94.7H950"/><text x="889.7" y="87.7">span</text></g>
<g id="a4-s1i"><path d="M950 94.7H985.4"/><text x="976" y="87.7">i</text></g>
<g id="a4-s2"><path d="M878 125H950"/><text x="889.7" y="118">span</text></g>
<g id="a4-s2i"><path d="M950 125H985.4"/><text x="976" y="118">i</text></g>
</g>
<g id="art5" transform="translate(0 2146.3)">
<g id="a5-li"><path d="M647.5 0H712"/><text x="655.6" y="-7">li</text></g>
<g id="a5-article"><path d="M712 0H763.7"/><text x="720.7" y="-7">article</text></g>
<g id="a5-header"><path d="M804.2 -109.6H903"/><text x="814" y="-116.6">header</text></g>
<g id="a5-hdiv"><path d="M903 -109.6H938"/><text x="911.5" y="-116.6">div</text></g>
<g id="a5-img"><path d="M976.6 -162.6H1022.4"/><text x="987.2" y="-169.6">img</text></g>
<g id="a5-img-i"><path d="M1055.8 -178.3H1077"/><text x="1067.4" y="-185.3">i</text></g>
<g id="a5-img-span"><path d="M1055.8 -147.6H1100.5"/><text x="1067.4" y="-154.6">span</text></g>
<g id="a5-span"><path d="M976.6 -102H1027.7"/><text x="987.2" y="-109">span</text></g>
<g id="a5-span-i"><path d="M1061 -117H1083.3"/><text x="1073.4" y="-124">i</text></g>
<g id="a5-span-span"><path d="M1061 -87H1106.9"/><text x="1073.4" y="-94">span</text></g>
<g id="a5-h3"><path d="M976.6 -57H1052"/><text x="987.2" y="-64">h3</text></g>
<g id="a5-h3-a"><path d="M1052 -57H1074"/><text x="1061.8" y="-64">a</text></g>
<g id="a5-div"><path d="M804.2 11.4H880"/><text x="814" y="4.4">div</text></g>
<g id="a5-bdiv"><path d="M880 11.4H916.8"/><text x="889.3" y="4.4">div</text></g>
<g id="a5-d1"><path d="M952 -26.6H987.2"/><text x="965.4" y="-33.6">div</text></g>
<g id="a5-d2"><path d="M952 4H1032"/><text x="965.4" y="-3">div</text></g>
<g id="a5-d2p"><path d="M1032 4H1054"/><text x="1041" y="-3">p</text></g>
<g id="a5-d3"><path d="M952 49H994.2"/><text x="965.4" y="42">div</text></g>
<g id="a5-d3i"><path d="M1022.4 34H1050.5"/><text x="1041" y="27">i</text></g>
<g id="a5-d3a"><path d="M1022.4 64.4H1054"/><text x="1041" y="57.4">a</text></g>
<g id="a5-fdiv"><path d="M804.2 109.7H842.9"/><text x="814" y="102.7">div</text></g>
<g id="a5-s1"><path d="M878 94.7H950"/><text x="889.7" y="87.7">span</text></g>
<g id="a5-s1i"><path d="M950 94.7H985.4"/><text x="976" y="87.7">i</text></g>
<g id="a5-s2"><path d="M878 125H950"/><text x="889.7" y="118">span</text></g>
<g id="a5-s2i"><path d="M950 125H985.4"/><text x="976" y="118">i</text></g>
</g>
<g id="art6" transform="translate(0 2479.3)">
<g id="a6-li"><path d="M647.5 0H712"/><text x="655.6" y="-7">li</text></g>
<g id="a6-article"><path d="M712 0H763.7"/><text x="720.7" y="-7">article</text></g>
<g id="a6-header"><path d="M804.2 -109.6H903"/><text x="814" y="-116.6">header</text></g>
<g id="a6-hdiv"><path d="M903 -109.6H938"/><text x="911.5" y="-116.6">div</text></g>
<g id="a6-img"><path d="M976.6 -162.6H1022.4"/><text x="987.2" y="-169.6">img</text></g>
<g id="a6-img-i"><path d="M1055.8 -178.3H1077"/><text x="1067.4" y="-185.3">i</text></g>
<g id="a6-img-span"><path d="M1055.8 -147.6H1100.5"/><text x="1067.4" y="-154.6">span</text></g>
<g id="a6-span"><path d="M976.6 -102H1027.7"/><text x="987.2" y="-109">span</text></g>
<g id="a6-span-i"><path d="M1061 -117H1083.3"/><text x="1073.4" y="-124">i</text></g>
<g id="a6-span-span"><path d="M1061 -87H1106.9"/><text x="1073.4" y="-94">span</text></g>
<g id="a6-h3"><path d="M976.6 -57H1052"/><text x="987.2" y="-64">h3</text></g>
<g id="a6-h3-a"><path d="M1052 -57H1074"/><text x="1061.8" y="-64">a</text></g>
<g id="a6-div"><path d="M804.2 11.4H880"/><text x="814" y="4.4">div</text></g>
<g id="a6-bdiv"><path d="M880 11.4H916.8"/><text x="889.3" y="4.4">div</text></g>
<g id="a6-d1"><path d="M952 -26.6H987.2"/><text x="965.4" y="-33.6">div</text></g>
<g id="a6-d2"><path d="M952 4H1032"/><text x="965.4" y="-3">div</text></g>
<g id="a6-d2p"><path d="M1032 4H1054"/><text x="1041" y="-3">p</text></g>
<g id="a6-d3"><path d="M952 49H994.2"/><text x="965.4" y="42">div</text></g>
<g id="a6-d3i"><path d="M1022.4 34H1050.5"/><text x="1041" y="27">i</text></g>
<g id="a6-d3a"><path d="M1022.4 64.4H1054"/><text x="1041" y="57.4">a</text></g>
<g id="a6-fdiv"><path d="M804.2 109.7H842.9"/><text x="814" y="102.7">div</text></g>
<g id="a6-s1"><path d="M878 94.7H950"/><text x="889.7" y="87.7">span</text></g>
<g id="a6-s1i"><path d="M950 94.7H985.4"/><text x="976" y="87.7">i</text></g>
<g id="a6-s2"><path d="M878 125H950"/><text x="889.7" y="118">span</text></g>
<g id="a6-s2i"><path d="M950 125H985.4"/><text x="976" y="118">i</text></g>
</g>
<g id="art7" transform="translate(0 2812.3)">
<g id="a7-li"><path d="M647.5 0H712"/><text x="655.6" y="-7">li</text></g>
<g id="a7-article"><path d="M712 0H763.7"/><text x="720.7" y="-7">article</text></g>
<g id="a7-header"><path d="M804.2 -109.6H903"/><text x="814" y="-116.6">header</text></g>
<g id="a7-hdiv"><path d="M903 -109.6H938"/><text x="911.5" y="-116.6">div</text></g>
<g id="a7-img"><path d="M976.6 -162.6H1022.4"/><text x="987.2" y="-169.6">img</text></g>
<g id="a7-img-i"><path d="M1055.8 -178.3H1077"/><text x="1067.4" y="-185.3">i</text></g>
<g id="a7-img-span"><path d="M1055.8 -147.6H1100.5"/><text x="1067.4" y="-154.6">span</text></g>
<g id="a7-span"><path d="M976.6 -102H1027.7"/><text x="987.2" y="-109">span</text></g>
<g id="a7-span-i"><path d="M1061 -117H1083.3"/><text x="1073.4" y="-124">i</text></g>
<g id="a7-span-span"><path d="M1061 -87H1106.9"/><text x="1073.4" y="-94">span</text></g>
<g id="a7-h3"><path d="M976.6 -57H1052"/><text x="987.2" y="-64">h3</text></g>
<g id="a7-h3-a"><path d="M1052 -57H1074"/><text x="1061.8" y="-64">a</text></g>
<g id="a7-div"><path d="M804.2 11.4H880"/><text x="814" y="4.4">div</text></g>
<g id="a7-bdiv"><path d="M880 11.4H916.8"/><text x="889.3" y="4.4">div</text></g>
<g id="a7-d1"><path d="M952 -26.6H987.2"/><text x="965.4" y="-33.6">div</text></g>
<g id="a7-d2"><path d="M952 4H1032"/><text x="965.4" y="-3">div</text></g>
<g id="a7-d2p"><path d="M1032 4H1054"/><text x="1041" y="-3">p</text></g>
<g id="a7-d3"><path d="M952 49H994.2"/><text x="965.4" y="42">div</text></g>
<g id="a7-d3i"><path d="M1022.4 34H1050.5"/><text x="1041" y="27">i</text></g>
<g id="a7-d3a"><path d="M1022.4 64.4H1054"/><text x="1041" y="57.4">a</text></g>
<g id="a7-fdiv"><path d="M804.2 109.7H842.9"/><text x="814" y="102.7">div</text></g>
<g id="a7-s1"><path d="M878 94.7H950"/><text x="889.7" y="87.7">span</text></g>
<g id="a7-s1i"><path d="M950 94.7H985.4"/><text x="976" y="87.7">i</text></g>
<g id="a7-s2"><path d="M878 125H950"/><text x="889.7" y="118">span</text></g>
<g id="a7-s2i"><path d="M950 125H985.4"/><text x="976" y="118">i</text></g>
</g>
<g id="art8" transform="translate(0 3145.3)">
<g id="a8-li"><path d="M647.5 0H712"/><text x="655.6" y="-7">li</text></g>
<g id="a8-article"><path d="M712 0H763.7"/><text x="720.7" y="-7">article</text></g>
<g id="a8-header"><path d="M804.2 -109.6H903"/><text x="814" y="-116.6">header</text></g>
<g id="a8-hdiv"><path d="M903 -109.6H938"/><text x="911.5" y="-116.6">div</text></g>
<g id="a8-img"><path d="M976.6 -162.6H1022.4"/><text x="987.2" y="-169.6">img</text></g>
<g id="a8-img-i"><path d="M1055.8 -178.3H1077"/><text x="1067.4" y="-185.3">i</text></g>
<g id="a8-img-span"><path d="M1055.8 -147.6H1100.5"/><text x="1067.4" y="-154.6">span</text></g>
<g id="a8-span"><path d="M976.6 -102H1027.7"/><text x="987.2" y="-109">span</text></g>
<g id="a8-span-i"><path d="M1061 -117H1083.3"/><text x="1073.4" y="-124">i</text></g>
<g id="a8-span-span"><path d="M1061 -87H1106.9"/><text x="1073.4" y="-94">span</text></g>
<g id="a8-h3"><path d="M976.6 -57H1052"/><text x="987.2" y="-64">h3</text></g>
<g id="a8-h3-a"><path d="M1052 -57H1074"/><text x="1061.8" y="-64">a</text></g>
<g id="a8-div"><path d="M804.2 11.4H880"/><text x="814" y="4.4">div</text></g>
<g id="a8-bdiv"><path d="M880 11.4H916.8"/><text x="889.3" y="4.4">div</text></g>
<g id="a8-d1"><path d="M952 -26.6H987.2"/><text x="965.4" y="-33.6">div</text></g>
<g id="a8-d2"><path d="M952 4H1032"/><text x="965.4" y="-3">div</text></g>
<g id="a8-d2p"><path d="M1032 4H1054"/><text x="1041" y="-3">p</text></g>
<g id="a8-d3"><path d="M952 49H994.2"/><text x="965.4" y="42">div</text></g>
<g id="a8-d3i"><path d="M1022.4 34H1050.5"/><text x="1041" y="27">i</text></g>
<g id="a8-d3a"><path d="M1022.4 64.4H1054"/><text x="1041" y="57.4">a</text></g>
<g id="a8-fdiv"><path d="M804.2 109.7H842.9"/><text x="814" y="102.7">div</text></g>
<g id="a8-s1"><path d="M878 94.7H950"/><text x="889.7" y="87.7">span</text></g>
<g id="a8-s1i"><path d="M950 94.7H985.4"/><text x="976" y="87.7">i</text></g>
<g id="a8-s2"><path d="M878 125H950"/><text x="889.7" y="118">span</text></g>
<g id="a8-s2i"><path d="M950 125H985.4"/><text x="976" y="118">i</text></g>
</g>
<g id="art9" transform="translate(0 3478.3)">
<g id="a9-li"><path d="M647.5 0H712"/><text x="655.6" y="-7">li</text></g>
<g id="a9-article"><path d="M712 0H763.7"/><text x="720.7" y="-7">article</text></g>
<g id="a9-header"><path d="M804.2 -109.6H903"/><text x="814" y="-116.6">header</text></g>
<g id="a9-hdiv"><path d="M903 -109.6H938"/><text x="911.5" y="-116.6">div</text></g>
<g id="a9-img"><path d="M976.6 -162.6H1022.4"/><text x="987.2" y="-169.6">img</text></g>
<g id="a9-img-i"><path d="M1055.8 -178.3H1077"/><text x="1067.4" y="-185.3">i</text></g>
<g id="a9-img-span"><path d="M1055.8 -147.6H1100.5"/><text x="1067.4" y="-154.6">span</text></g>
<g id="a9-span"><path d="M976.6 -102H1027.7"/><text x="987.2" y="-109">span</text></g>
<g id="a9-span-i"><path d="M1061 -117H1083.3"/><text x="1073.4" y="-124">i</text></g>
<g id="a9-span-span"><path d="M1061 -87H1106.9"/><text x="1073.4" y="-94">span</text></g>
<g id="a9-h3"><path d="M976.6 -57H1052"/><text x="987.2" y="-64">h3</text></g>
<g id="a9-h3-a"><path d="M1052 -57H1074"/><text x="1061.8" y="-64">a</text></g>
<g id="a9-div"><path d="M804.2 11.4H880"/><text x="814" y="4.4">div</text></g>
<g id="a9-bdiv"><path d="M880 11.4H916.8"/><text x="889.3" y="4.4">div</text></g>
<g id="a9-d1"><path d="M952 -26.6H987.2"/><text x="965.4" y="-33.6">div</text></g>
<g id="a9-d2"><path d="M952 4H1032"/><text x="965.4" y="-3">div</text></g>
<g id="a9-d2p"><path d="M1032 4H1054"/><text x="1041" y="-3">p</text></g>
<g id="a9-d3"><path d="M952 49H994.2"/><text x="965.4" y="42">div</text></g>
<g id="a9-d3i"><path d="M1022.4 34H1050.5"/><text x="1041" y="27">i</text></g>
<g id="a9-d3a"><path d="M1022.4 64.4H1054"/><text x="1041" y="57.4">a</text></g>
<g id="a9-fdiv"><path d="M804.2 109.7H842.9"/><text x="814" y="102.7">div</text></g>
<g id="a9-s1"><path d="M878 94.7H950"/><text x="889.7" y="87.7">span</text></g>
<g id="a9-s1i"><path d="M950 94.7H985.4"/><text x="976" y="87.7">i</text></g>
<g id="a9-s2"><path d="M878 125H950"/><text x="889.7" y="118">span</text></g>
<g id="a9-s2i"><path d="M950 125H985.4"/><text x="976" y="118">i</text></g>
</g>
<g id="art10" transform="translate(0 3811.3)">
<g id="a10-li"><path d="M647.5 0H712"/><text x="655.6" y="-7">li</text></g>
<g id="a10-article"><path d="M712 0H763.7"/><text x="720.7" y="-7">article</text></g>
<g id="a10-header"><path d="M804.2 -109.6H903"/><text x="814" y="-116.6">header</text></g>
<g id="a10-hdiv"><path d="M903 -109.6H938"/><text x="911.5" y="-116.6">div</text></g>
<g id="a10-img"><path d="M976.6 -162.6H1022.4"/><text x="987.2" y="-169.6">img</text></g>
<g id="a10-img-i"><path d="M1055.8 -178.3H1077"/><text x="1067.4" y="-185.3">i</text></g>
<g id="a10-img-span"><path d="M1055.8 -147.6H1100.5"/><text x="1067.4" y="-154.6">span</text></g>
<g id="a10-span"><path d="M976.6 -102H1027.7"/><text x="987.2" y="-109">span</text></g>
<g id="a10-span-i"><path d="M1061 -117H1083.3"/><text x="1073.4" y="-124">i</text></g>
<g id="a10-span-span"><path d="M1061 -87H1106.9"/><text x="1073.4" y="-94">span</text></g>
<g id="a10-h3"><path d="M976.6 -57H1052"/><text x="987.2" y="-64">h3</text></g>
<g id="a10-h3-a"><path d="M1052 -57H1074"/><text x="1061.8" y="-64">a</text></g>
<g id="a10-div"><path d="M804.2 11.4H880"/><text x="814" y="4.4">div</text></g>
<g id="a10-bdiv"><path d="M880 11.4H916.8"/><text x="889.3" y="4.4">div</text></g>
<g id="a10-d1"><path d="M952 -26.6H987.2"/><text x="965.4" y="-33.6">div</text></g>
<g id="a10-d2"><path d="M952 4H1032"/><text x="965.4" y="-3">div</text></g>
<g id="a10-d2p"><path d="M1032 4H1054"/><text x="1041" y="-3">p</text></g>
<g id="a10-d3"><path d="M952 49H994.2"/><text x="965.4" y="42">div</text></g>
<g id="a10-d3i"><path d="M1022.4 34H1050.5"/><text x="1041" y="27">i</text></g>
<g id="a10-d3a"><path d="M1022.4 64.4H1054"/><text x="1041" y="57.4">a</text></g>
<g id="a10-fdiv"><path d="M804.2 109.7H842.9"/><text x="814" y="102.7">div</text></g>
<g id="a10-s1"><path d="M878 94.7H950"/><text x="889.7" y="87.7">span</text></g>
<g id="a10-s1i"><path d="M950 94.7H985.4"/><text x="976" y="87.7">i</text></g>
<g id="a10-s2"><path d="M878 125H950"/><text x="889.7" y="118">span</text></g>
<g id="a10-s2i"><path d="M950 125H985.4"/><text x="976" y="118">i</text></g>
</g>
</g>
<g class="Y">
<g id="footer"><path class="k1" d="M226 4891H302.7"/><text class="L1" x="243.8" y="4878">footer</text></g>
<g id="f-a"><path d="M342 4730H367.4"/><text x="353" y="4723">a</text></g>
<g id="f-a-i"><path d="M410 4714.7H430"/><text x="420" y="4707.7">i</text></g>
<g id="f-a-span"><path d="M410 4746H453.6"/><text x="420" y="4739">span</text></g>
<g id="f-div"><path d="M342 4906H383"/><text x="353" y="4899">div</text></g>
<g id="f-div1"><path d="M421 4790.3H498"/><text x="430" y="4783.3">div</text></g>
<g id="f-div1-a"><path d="M498 4790.3H532.6"/><text x="505.8" y="4783.3">a</text></g>
<g id="f-img"><path d="M562 4775.3H598.7"/><text x="571.4" y="4768.3">img</text></g>
<g id="f-p"><path d="M562 4805.3H585.3"/><text x="571.4" y="4798.3">p</text></g>
<g id="f-div2"><path d="M421 4851.7H463.4"/><text x="430" y="4844.7">div</text></g>
<g id="f-span"><path d="M497 4836.7H539.3"/><text x="505.8" y="4829.7">span</text></g>
<g id="f-b"><path d="M497 4867H519.6"/><text x="505.8" y="4860">b</text></g>
<g id="f-script1"><path d="M421 4898H467"/><text x="430" y="4891">script</text></g>
<g id="f-script2"><path d="M421 4929.3H467"/><text x="430" y="4922.3">script</text></g>
<g id="f-script3"><path d="M421 4960.3H467"/><text x="430" y="4953.3">script</text></g>
<g id="f-a1"><path d="M421 4991.3H443.3"/><text x="430" y="4984.3">a</text></g>
<g id="f-a2"><path d="M421 5022.3H443.3"/><text x="430" y="5015.3">a</text></g>
<g id="f-script"><path d="M342 5052.3H391"/><text x="353" y="5045.3">script</text></g>
</g>
</g>
</g>
</svg>
